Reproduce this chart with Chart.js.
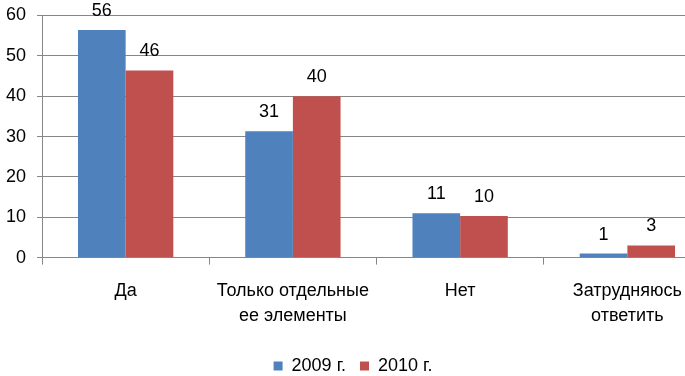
<!DOCTYPE html>
<html lang="ru">
<head>
  <meta charset="UTF-8">
  <title>Диаграмма</title>
  <script src="https://cdn.jsdelivr.net/npm/chart.js"></script>
  <style>
    html, body { margin: 0; padding: 0; overflow: hidden; background: #fff; }
    #wrap { width: 711px; height: 376px; }
  </style>
</head>
<body>
  <div id="wrap"><canvas id="surveyChart"></canvas></div>
  <script>
    // данные
    const categories = ['Да', ['Только отдельные', 'ее элементы'], 'Нет', ['Затрудняюсь', 'ответить']];
    const values2009 = [56.4, 31.3, 11.0, 1.0];
    const values2010 = [46.4, 40.0, 10.3, 3.0];
    const yTicks = [0, 10, 20, 30, 40, 50, 60];

    const FONT = "'Liberation Sans', Arial, sans-serif";

    // подписи значений над столбцами
    const valueLabels = {
      id: 'valueLabels',
      afterDatasetsDraw(chart) {
        const ctx = chart.ctx;
        ctx.save();
        ctx.fillStyle = '#000';
        ctx.font = '18px ' + FONT;
        ctx.textAlign = 'center';
        ctx.textBaseline = 'middle';
        chart.data.datasets.forEach((ds, i) => {
          chart.getDatasetMeta(i).data.forEach((bar, j) => {
            ctx.fillText(Math.round(ds.data[j]), bar.x, bar.y - 19);
          });
        });
        ctx.restore();
      }
    };

    const ctx = document.getElementById('surveyChart').getContext('2d');
    new Chart(ctx, {
      type: 'bar',
      data: {
        labels: categories,
        datasets: [
          { label: '2009 г.', data: values2009, backgroundColor: '#4F81BD' },
          { label: '2010 г.', data: values2010, backgroundColor: '#C0504D' }
        ]
      },
      options: {
        responsive: true,
        maintainAspectRatio: false,
        animation: false,
        layout: { padding: { left: -5, right: 0, top: 14, bottom: -9 } },
        datasets: { bar: { barPercentage: 1, categoryPercentage: 0.57 } },
        plugins: {
          legend: {
            position: 'bottom',
            labels: {
              boxWidth: 9, boxHeight: 9, padding: 14,
              color: '#000', font: { family: FONT, size: 18 }
            }
          },
          tooltip: { enabled: false }
        },
        scales: {
          x: {
            grid: { display: true, drawOnChartArea: false, tickLength: 7, color: '#868686' },
            border: { color: '#868686' },
            ticks: { color: '#000', padding: 14, maxRotation: 0, autoSkip: false,
                     font: { family: FONT, size: 18, lineHeight: 1.4 } }
          },
          y: {
            min: 0, max: 60,
            afterBuildTicks: axis => { axis.ticks = yTicks.map(v => ({ value: v })); },
            grid: { color: '#868686', tickLength: 5 },
            border: { color: '#868686' },
            ticks: { color: '#000', padding: 11, font: { family: FONT, size: 18, lineHeight: 0.5 } }
          }
        }
      },
      plugins: [valueLabels]
    });
  </script>
</body>
</html>
